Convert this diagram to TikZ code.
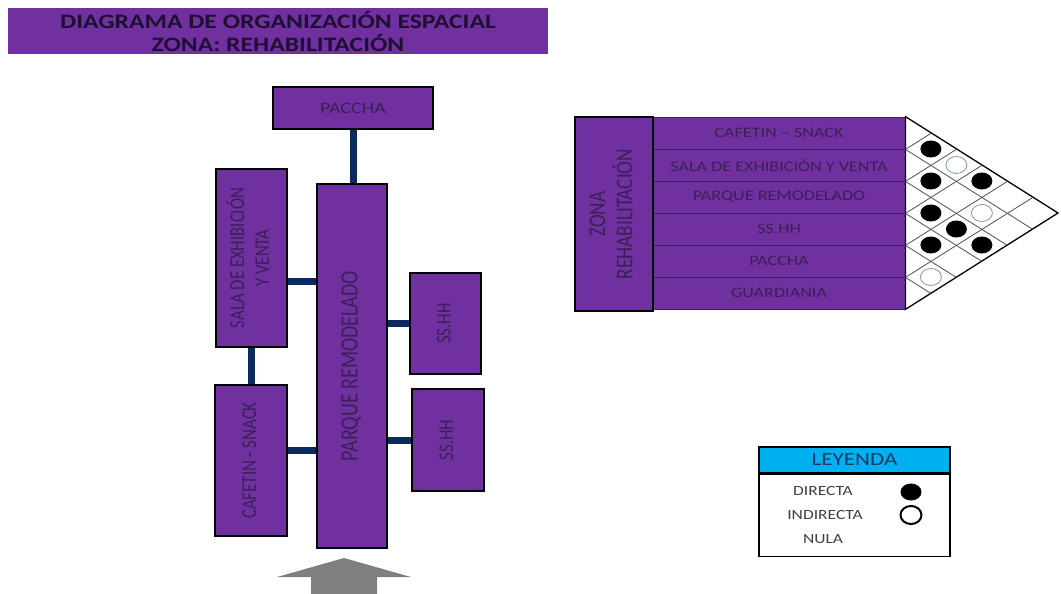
\documentclass[tikz,border=0pt]{standalone}
\usepackage{graphicx}
\usepackage{fontspec}
\setmainfont{Carlito}[FakeStretch=1.25]
\newfontfamily\tallfont{Carlito}[FakeStretch=0.8]
\usetikzlibrary{calc, shapes.geometric}

\definecolor{zonepurple}{HTML}{7030A0}
\definecolor{inkpurple}{HTML}{3A2056}
\definecolor{titleink}{HTML}{1E0F33}
\definecolor{linknavy}{HTML}{0B2A5E}
\definecolor{rowline}{HTML}{3A1D5A}
\definecolor{gridgray}{HTML}{505050}
\definecolor{ringblue}{HTML}{8496B0}
\definecolor{legendblue}{HTML}{00B0F0}
\definecolor{legendink}{HTML}{1F3864}
\definecolor{arrowgray}{HTML}{7F7F7F}

\newcommand{\vtext}[1]{\rotatebox{90}{\begin{tabular}{@{}c@{}}#1\end{tabular}}}

\tikzset{
  room/.style={draw=black, line width=1.5pt, fill=zonepurple, text=inkpurple,
    inner sep=0pt, align=center},
  vroom/.style={room, font=\tallfont\fontsize{21}{25}\selectfont},
  link/.style={draw=linknavy, line width=7pt},
  rowbox/.style={draw=rowline, line width=0.8pt, fill=zonepurple, text=inkpurple,
    inner sep=0pt, minimum width=252, minimum height=32,
    font=\fontsize{14.5}{16}\selectfont},
  fulldot/.style={ellipse, fill=black, inner sep=0pt, minimum width=21, minimum height=17},
  emptydot/.style={ellipse, draw=ringblue, line width=0.8pt, fill=white, inner sep=0pt,
    minimum width=21, minimum height=17},
  legendtext/.style={text=black!75, font=\fontsize{14}{16}\selectfont, inner sep=0pt}
}

\begin{document}
\begin{tikzpicture}[x=1pt, y=-1pt]
  \useasboundingbox (0,0) rectangle (1061,594);

  % Draw title.
  \node[fill=zonepurple, minimum width=540, minimum height=46, inner sep=0pt, align=center,
    text=titleink, font=\bfseries\fontsize{20.5}{23}\selectfont] (title) at (278,31)
    {DIAGRAMA DE ORGANIZACIÓN ESPACIAL\\ZONA: REHABILITACIÓN};

  % Draw rooms.
  \node[room, minimum width=160, minimum height=42, font=\fontsize{16}{18}\selectfont] (paccha) at (353,108) {PACCHA};
  \node[room, minimum width=70, minimum height=364, font=\tallfont\fontsize{25}{28}\selectfont] (parque) at (352,366) {\vtext{PARQUE REMODELADO}};
  \node[vroom, minimum width=71, minimum height=178] (sala) at (251.5,258) {\vtext{SALA DE EXHIBICIÓN\\Y VENTA}};
  \node[vroom, minimum width=72, minimum height=151] (cafetin) at (251,460.5) {\vtext{CAFETIN - SNACK}};
  \node[vroom, minimum width=71, minimum height=101] (sshh1) at (445.5,323.5) {\vtext{SS.HH}};
  \node[vroom, minimum width=72, minimum height=102] (sshh2) at (448,440) {\vtext{SS.HH}};

  % Draw links between rooms.
  \draw[link] (paccha.south) -- (paccha.south |- parque.north);
  \draw[link] ([yshift=-23pt]sala.east) -- ([yshift=-23pt]sala.east -| parque.west);
  \draw[link] (sala.south) -- (sala.south |- cafetin.north);
  \draw[link] ([yshift=10pt]cafetin.east) -- ([yshift=10pt]cafetin.east -| parque.west);
  \draw[link] (sshh1.west -| parque.east) -- (sshh1.west);
  \draw[link] (sshh2.west -| parque.east) -- (sshh2.west);

  % Draw access arrow.
  \fill[arrowgray] (344,558) -- (411,577) -- (377,577) -- (377,600) -- (311,600) -- (311,577) -- (277,577) -- cycle;

  % Draw relation matrix.
  \foreach \name [count=\k] in {CAFETIN – SNACK, SALA DE EXHIBICIÓN Y VENTA, PARQUE REMODELADO, SS.HH, PACCHA, GUARDIANIA}
    \node[rowbox] (row\k) at (779,{101+32*\k}) {\name};
  \node[room, line width=2pt, minimum width=78, minimum height=194,
    font=\tallfont\fontsize{24}{24}\selectfont] (zona) at (614,214) {\vtext{ZONA\\REHABILITACIÓN}};

  \coordinate (tip) at (1058,213);
  \draw[line width=1.3pt, fill=white] (row1.north east) -- (tip) -- (row6.south east) -- cycle;
  \foreach \k in {1,...,5} {
    \draw[gridgray, line width=0.8pt] (row\k.south east) -- ++({25.5*(6-\k)},{16*(6-\k)});
    \draw[gridgray, line width=0.8pt] (row\k.south east) -- ++({25.5*\k},{-16*\k});
  }

  % Draw relations.
  \foreach \a/\b/\kind in {1/2/fulldot, 1/3/emptydot, 2/3/fulldot, 1/4/fulldot, 3/4/fulldot,
                           2/5/emptydot, 3/5/fulldot, 4/5/fulldot, 3/6/fulldot, 5/6/emptydot}
    \node[\kind] (rel\a\b) at ($(row\a.east)!.5!(row\b.east)+({25.5*(\b-\a)},0)$) {};

  % Draw legend.
  \node[draw=black, line width=1.3pt, fill=legendblue, minimum width=191, minimum height=26,
    inner sep=0pt, text=legendink, font=\fontsize{18.5}{20}\selectfont] (legend) at (854.5,460) {LEYENDA};
  \node[draw=black, line width=1.3pt, fill=white, minimum width=191, minimum height=82,
    inner sep=0pt, anchor=north] (legendbox) at (legend.south) {};
  \node[legendtext] (directa) at (823,491) {DIRECTA};
  \node[legendtext] (indirecta) at (825,515) {INDIRECTA};
  \node[legendtext] (nula) at (823,539) {NULA};
  \node[ellipse, fill=black, inner sep=0pt, minimum width=21, minimum height=17] (keyfull) at (911,492) {};
  \node[ellipse, draw=black, line width=2pt, fill=white, inner sep=0pt, minimum width=21, minimum height=18] (keyempty) at (911,515) {};
\end{tikzpicture}
\end{document}
